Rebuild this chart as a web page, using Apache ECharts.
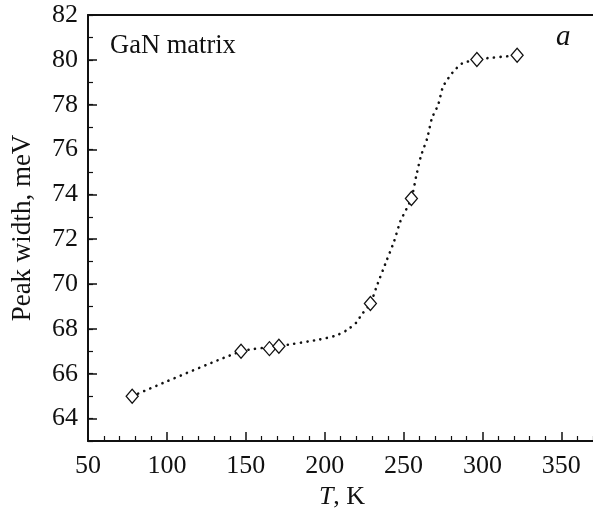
<!DOCTYPE html>
<html><head><meta charset="utf-8">
<script src="https://cdn.jsdelivr.net/npm/echarts@6/dist/echarts.min.js"></script>
<style>html,body{margin:0;padding:0;background:#fff}#c{width:593px;height:510px}</style>
</head><body><div id="c"></div>
<script>
// measured points (T, K ; peak width, meV)
const pointT = [78, 147, 165, 171, 229, 255, 296.5, 322];
const pointW = [65.0, 67.0, 67.12, 67.23, 69.13, 73.82, 80.02, 80.2];
// dotted guide curve
const curveT = [78, 147, 171, 197, 207, 214, 220.5, 223, 229, 233, 239, 244, 248, 255, 258, 261, 265, 268, 272, 275, 281, 287, 296.5, 322];
const curveW = [65.0, 67.0, 67.23, 67.53, 67.7, 67.94, 68.31, 68.6, 69.13, 69.9, 71.0, 71.9, 72.8, 73.82, 74.8, 75.7, 76.5, 77.4, 78.0, 78.8, 79.43, 79.83, 80.02, 80.2];
const xTicks = [50, 100, 150, 200, 250, 300, 350];
const yTicks = [64, 66, 68, 70, 72, 74, 76, 78, 80, 82];

const font = '"Liberation Serif", "Times New Roman", Times, serif';
const fs = 26;
const chart = echarts.init(document.getElementById('c'), null, {renderer: 'canvas'});
chart.setOption({
  animation: false,
  grid: {left: 88, right: -3, top: 15, bottom: 69, containLabel: false, outerBoundsMode: 'none'},
  xAxis: [{
    type: 'value', min: 50, max: 372, interval: 50,
    axisLine: {show: true, lineStyle: {color: '#111', width: 2}},
    axisTick: {show: true, inside: true, length: 9, customValues: xTicks, lineStyle: {color: '#111', width: 1.5}},
    minorTick: {show: true, splitNumber: 5, length: 5, lineStyle: {color: '#111', width: 1.2}},
    splitLine: {show: false},
    axisLabel: {color: '#111', fontFamily: font, fontSize: fs, margin: 12, customValues: xTicks,
      formatter: v => xTicks.includes(v) ? String(v) : ''},
    name: '{i|T}, K', nameLocation: 'middle', nameGap: 42,
    nameTextStyle: {color: '#111', fontFamily: font, fontSize: fs,
      rich: {i: {fontStyle: 'italic', fontFamily: font, fontSize: fs, color: '#111'}}}
  }, {
    type: 'value', position: 'top', min: 50, max: 372,
    axisLine: {show: true, lineStyle: {color: '#111', width: 2}},
    axisTick: {show: false}, axisLabel: {show: false}, splitLine: {show: false}
  }],
  yAxis: [{
    type: 'value', min: 63, max: 82, interval: 1,
    axisLine: {show: true, lineStyle: {color: '#111', width: 2}},
    axisTick: {show: true, inside: true, length: 9, customValues: yTicks, lineStyle: {color: '#111', width: 1.5}},
    minorTick: {show: false},
    splitLine: {show: false},
    axisLabel: {color: '#111', fontFamily: font, fontSize: fs, margin: 10, customValues: yTicks,
      formatter: v => yTicks.includes(v) ? String(v) : ''},
    name: 'Peak width, meV', nameLocation: 'middle', nameGap: 52,
    nameTextStyle: {color: '#111', fontFamily: font, fontSize: 27}
  }, {
    type: 'value', position: 'left', offset: 0, min: 63, max: 82, interval: 1,
    axisLine: {show: false},
    axisTick: {show: true, inside: true, length: 5, lineStyle: {color: '#111', width: 1.2}},
    axisLabel: {show: false}, splitLine: {show: false}
  }],
  graphic: [
    {type: 'text', left: 110, top: 33, style: {text: 'GaN matrix', font: '26.5px "Liberation Serif", "Times New Roman", serif', fill: '#111'}},
    {type: 'text', left: 556, top: 23, style: {text: 'a', font: 'italic 29px "Liberation Serif", "Times New Roman", serif', fill: '#111'}}
  ],
  series: [
    {type: 'line', data: curveT.map((t, i) => [t, curveW[i]]), smooth: 0.2, showSymbol: false, symbol: 'none',
      lineStyle: {color: '#111', width: 2.6, type: [0.1, 6.5], cap: 'round'}, z: 2, silent: true},
    {type: 'scatter', data: pointT.map((t, i) => [t, pointW[i]]), symbol: 'diamond', symbolSize: [12, 14],
      itemStyle: {color: '#fff', borderColor: '#111', borderWidth: 1.3, opacity: 1}, z: 3}
  ]
});
</script></body></html>
